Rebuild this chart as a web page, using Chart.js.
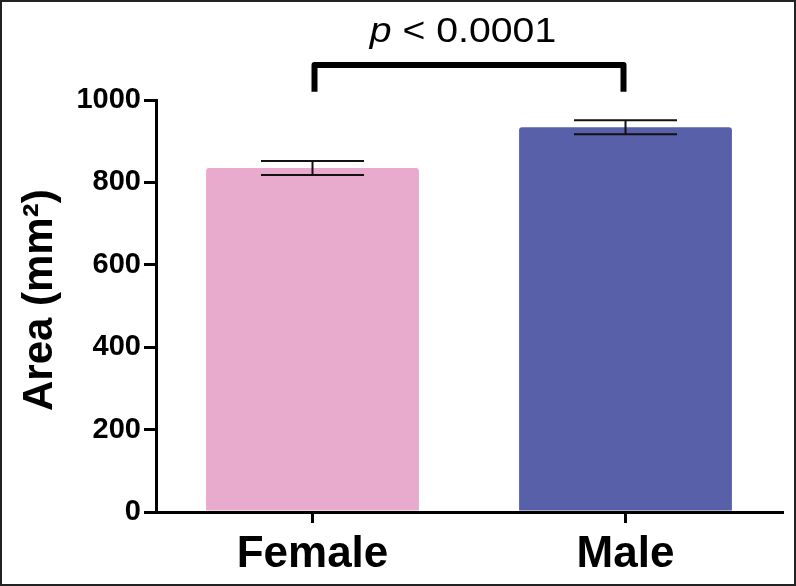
<!DOCTYPE html>
<html>
<head>
<meta charset="utf-8">
<script src="https://cdn.jsdelivr.net/npm/chart.js@4.4.1/dist/chart.umd.min.js"></script>
<style>
html, body { margin: 0; padding: 0; background: #fff; }
#frame { width: 796px; height: 586px; box-sizing: border-box; border: 2px solid #222; }
canvas { display: block; }
</style>
</head>
<body>
<div id="frame"><canvas id="chart" width="792" height="582"></canvas></div>
<script>
// data
const categories = ['Female', 'Male'];
const means = [835, 934];
const sems = [17, 17];
const barColors = ['#E8AACD', '#5860AA'];
const yTicks = [0, 200, 400, 600, 800, 1000];

// significance annotation (in data units)
const pItalic = 'p';
const pRest = ' < 0.0001';
const bracketLegLevel = 1020;
const bracketTopLevel = 1085;
const pLabelLevel = 1141;

const FONT = "'Liberation Sans', Arial, Helvetica, sans-serif";

const errorBars = {
    id: 'errorBars',
    afterDatasetsDraw: function (chart) {
        const ctx = chart.ctx, y = chart.scales.y;
        const meta = chart.getDatasetMeta(0);
        ctx.save();
        ctx.strokeStyle = '#111';
        ctx.lineWidth = 2;
        meta.data.forEach(function (bar, i) {
            const top = y.getPixelForValue(means[i] + sems[i]);
            const bot = y.getPixelForValue(means[i] - sems[i]);
            const half = bar.width * 0.242;
            ctx.beginPath();
            ctx.moveTo(bar.x - half, top); ctx.lineTo(bar.x + half, top);
            ctx.moveTo(bar.x - half, bot); ctx.lineTo(bar.x + half, bot);
            ctx.moveTo(bar.x, top); ctx.lineTo(bar.x, bot);
            ctx.stroke();
        });
        ctx.restore();
    }
};

const significance = {
    id: 'significance',
    afterDraw: function (chart) {
        const ctx = chart.ctx, x = chart.scales.x, y = chart.scales.y;
        const x1 = x.getPixelForValue(0) + 2;
        const x2 = x.getPixelForValue(1) - 2;
        const yLeg = y.getPixelForValue(bracketLegLevel);
        const yTop = y.getPixelForValue(bracketTopLevel);
        ctx.save();
        ctx.strokeStyle = '#000';
        ctx.lineWidth = 6;
        ctx.lineJoin = 'round';
        ctx.beginPath();
        ctx.moveTo(x1, yLeg);
        ctx.lineTo(x1, yTop);
        ctx.lineTo(x2, yTop);
        ctx.lineTo(x2, yLeg);
        ctx.stroke();

        // label: italic p + regular rest, slightly widened like the original
        const yText = y.getPixelForValue(pLabelLevel);
        const stretch = 1.12;
        ctx.fillStyle = '#000';
        ctx.textBaseline = 'alphabetic';
        ctx.font = 'italic 35px ' + FONT;
        const w1 = ctx.measureText(pItalic).width;
        ctx.font = '35px ' + FONT;
        const w2 = ctx.measureText(pRest).width;
        const cx = (x1 + x2) / 2 - 6;
        ctx.translate(cx, yText);
        ctx.scale(stretch, 1);
        const start = -(w1 + w2) / 2;
        ctx.font = 'italic 35px ' + FONT;
        ctx.fillText(pItalic, start, 0);
        ctx.font = '35px ' + FONT;
        ctx.fillText(pRest, start + w1, 0);
        ctx.restore();
    }
};

new Chart(document.getElementById('chart'), {
    type: 'bar',
    data: {
        labels: categories,
        datasets: [{
            data: means,
            backgroundColor: barColors,
            borderWidth: 0,
            borderRadius: { topLeft: 3, topRight: 3 },
            barPercentage: 0.68,
            categoryPercentage: 1
        }]
    },
    options: {
        responsive: false,
        animation: false,
        layout: { padding: { top: 98, right: 12, left: 0, bottom: 0 } },
        plugins: { legend: { display: false }, tooltip: { enabled: false } },
        scales: {
            x: {
                offset: true,
                grid: { display: true, offset: false, drawOnChartArea: false, drawTicks: true, tickLength: 11, color: '#000', lineWidth: 3 },
                border: { display: true, color: '#000', width: 3 },
                ticks: { color: '#000', font: { family: FONT, size: 44, weight: 'bold' }, padding: 5, maxRotation: 0 },
                afterFit: function (s) { s.height = 72; }
            },
            y: {
                min: 0,
                max: 1000,
                afterBuildTicks: function (s) { s.ticks = yTicks.map(function (v) { return { value: v }; }); },
                grid: { display: true, drawOnChartArea: false, drawTicks: true, tickLength: 12, color: '#000', lineWidth: 3 },
                border: { display: true, color: '#000', width: 3 },
                ticks: {
                    color: '#000',
                    font: { family: FONT, size: 29, weight: 'bold' },
                    padding: 3,
                    callback: function (v) { return String(v); }
                },
                title: {
                    display: true,
                    text: ' Area (mm²)',
                    color: '#000',
                    font: { family: FONT, size: 42, weight: 'bold' },
                    padding: { top: 13, bottom: 0 }
                },
                afterFit: function (s) { s.width = 154; }
            }
        }
    },
    plugins: [errorBars, significance]
});
</script>
</body>
</html>
